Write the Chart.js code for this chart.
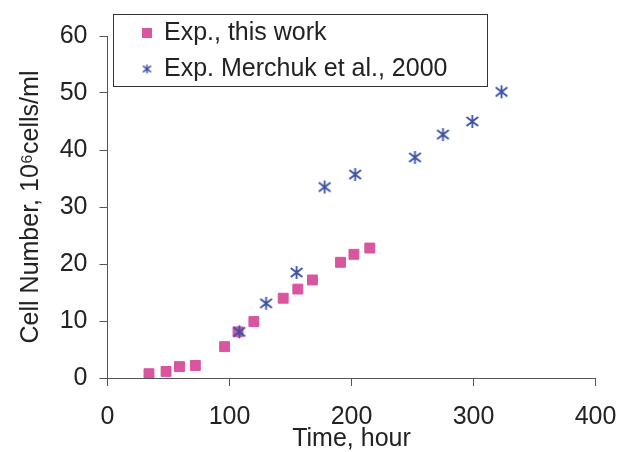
<!DOCTYPE html>
<html>
<head>
<meta charset="utf-8">
<script src="https://cdn.jsdelivr.net/npm/chart.js@4"></script>
<style>
    html, body { margin: 0; padding: 0; background: #fff; }
    #wrap { width: 618px; height: 452px; }
</style>
</head>
<body>
<div id="wrap"><canvas id="cellChart" width="618" height="452"></canvas></div>
<script>
// 데이터
const thisWorkLabel = 'Exp., this work';
const thisWorkTime = [34, 48, 59, 72, 96, 107, 120, 144, 156, 168, 191, 202, 215];
const thisWorkCells = [0.75, 1.15, 2.0, 2.2, 5.5, 8.1, 9.9, 14.0, 15.6, 17.2, 20.3, 21.7, 22.8];

const merchukLabel = 'Exp. Merchuk et al., 2000';
const merchukTime = [108, 130, 155, 178, 203, 252, 275, 299, 323];
const merchukCells = [8.1, 13.1, 18.5, 33.5, 35.7, 38.7, 42.7, 45.0, 50.2];

const xTicks = [0, 100, 200, 300, 400];
const yTicks = [0, 10, 20, 30, 40, 50, 60];

const PINK = '#d9559f';
const BLUE = '#3a4fa6';
const FONT = '"Liberation Sans", Arial, sans-serif';

// 별표 마커 (세로선 + X)
function makeAsterisk(size, color, lw) {
    const c = document.createElement('canvas');
    c.width = size;
    c.height = size;
    const g = c.getContext('2d');
    const m = size / 2;
    const r = size / 2 - 1;
    g.strokeStyle = color;
    g.lineWidth = lw;
    g.beginPath();
    g.moveTo(m, m - r); g.lineTo(m, m + r);
    g.moveTo(m - r * 0.9, m - r * 0.7); g.lineTo(m + r * 0.9, m + r * 0.7);
    g.moveTo(m - r * 0.9, m + r * 0.7); g.lineTo(m + r * 0.9, m - r * 0.7);
    g.stroke();
    return c;
}
const asterisk = makeAsterisk(15, BLUE, 1.8);

const toPoints = (xs, ys) => xs.map((x, i) => ({ x: x, y: ys[i] }));

// 테두리 있는 범례
const boxLegend = {
    id: 'boxLegend',
    afterDraw(chart) {
        const g = chart.ctx;
        g.save();
        g.strokeStyle = '#333';
        g.lineWidth = 1;
        g.fillStyle = '#fff';
        g.fillRect(113.5, 14.5, 374, 72);
        g.strokeRect(113.5, 14.5, 374, 72);
        g.font = '25px ' + FONT;
        g.textBaseline = 'middle';
        g.fillStyle = '#222';
        g.fillText(thisWorkLabel, 164, 33);
        g.fillText(merchukLabel, 164, 69);
        g.fillStyle = PINK;
        g.fillRect(142, 28, 10, 10);
        const s = 11;
        g.drawImage(makeAsterisk(s, BLUE, 1.4), 147 - s / 2, 69 - s / 2);
        g.restore();
    }
};

document.addEventListener('DOMContentLoaded', () => {
    const ctx = document.getElementById('cellChart').getContext('2d');
    new Chart(ctx, {
        type: 'scatter',
        data: {
            datasets: [
                {
                    label: thisWorkLabel,
                    data: toPoints(thisWorkTime, thisWorkCells),
                    pointStyle: 'rect',
                    pointRadius: 7,
                    pointHoverRadius: 7,
                    backgroundColor: PINK,
                    borderColor: PINK,
                    borderWidth: 1,
                    order: 1
                },
                {
                    label: merchukLabel,
                    data: toPoints(merchukTime, merchukCells),
                    pointStyle: asterisk,
                    pointRadius: 7,
                    backgroundColor: BLUE,
                    borderColor: BLUE,
                    order: 0
                }
            ]
        },
        options: {
            responsive: false,
            animation: false,
            layout: {
                padding: { top: 36, right: 22.5, bottom: 0, left: 0 }
            },
            plugins: {
                legend: { display: false },
                tooltip: { enabled: false }
            },
            scales: {
                x: {
                    type: 'linear',
                    min: 0,
                    max: 400,
                    afterBuildTicks: (scale) => { scale.ticks = xTicks.map(v => ({ value: v })); },
                    afterFit: (scale) => {
                        scale.height = 74;
                        scale.paddingLeft = 0;
                        scale.paddingRight = 0;
                    },
                    grid: { drawOnChartArea: false, tickLength: 8, color: '#555' },
                    border: { color: '#555', width: 1 },
                    ticks: {
                        color: '#222',
                        padding: 16,
                        maxRotation: 0,
                        font: { family: FONT, size: 25 }
                    },
                    title: {
                        display: true,
                        text: 'Time, hour',
                        color: '#222',
                        padding: { top: 0, bottom: 0 },
                        font: { family: FONT, size: 25, lineHeight: 1 }
                    }
                },
                y: {
                    type: 'linear',
                    min: 0,
                    max: 60,
                    afterBuildTicks: (scale) => { scale.ticks = yTicks.map(v => ({ value: v })); },
                    afterFit: (scale) => { scale.width = 107.5; },
                    grid: { drawOnChartArea: false, tickLength: 8, color: '#555' },
                    border: { color: '#555', width: 1 },
                    ticks: {
                        color: '#222',
                        padding: 12,
                        font: { family: FONT, size: 25 }
                    },
                    title: {
                        display: true,
                        text: 'Cell Number, 10\u2076cells/ml',
                        color: '#222',
                        padding: { top: 16, bottom: 0 },
                        font: { family: FONT, size: 25 }
                    }
                }
            }
        },
        plugins: [boxLegend]
    });
});
</script>
</body>
</html>
